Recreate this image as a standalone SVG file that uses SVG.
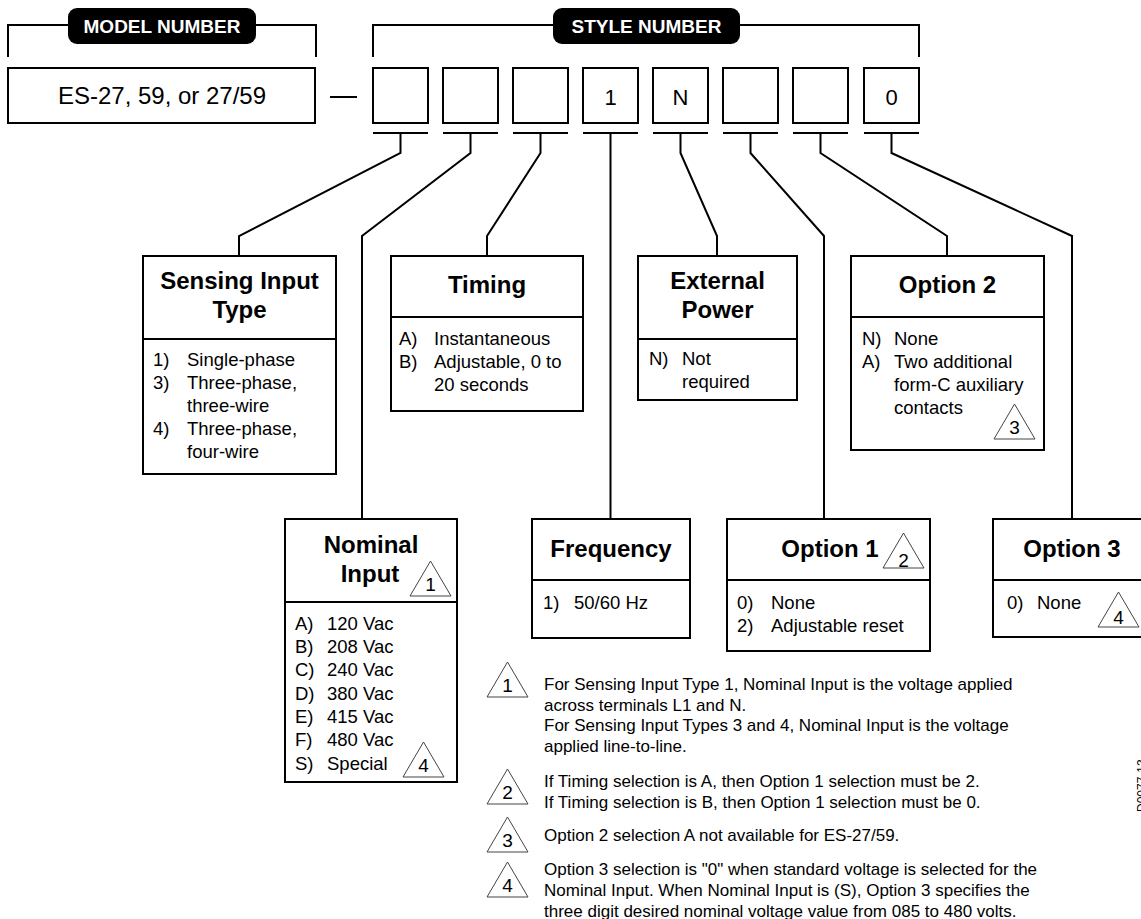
<svg xmlns="http://www.w3.org/2000/svg" width="1141" height="919" viewBox="0 0 1141 919">
<style>
.box{fill:#fff;stroke:#000;stroke-width:2}
.ln{fill:none;stroke:#000;stroke-width:2}
.tri{fill:#fff;stroke:#444;stroke-width:1}
text{font-family:"Liberation Sans",Arial,sans-serif;fill:#000}
.t{font-size:24px;font-weight:bold;text-anchor:middle}
.i{font-size:18.5px}
.n{font-size:17px}
.tn{font-size:19px;text-anchor:middle}
.lab{font-size:19px;font-weight:bold;fill:#fff;text-anchor:middle}
.big{font-size:22px;text-anchor:middle}
.mdl{font-size:24px;text-anchor:middle}
.id{font-size:12px}
</style>
<defs>
<path id="tri" class="tri" d="M0,0 L20.5,-35 L41,0 Z"/>
</defs>
<rect width="1141" height="919" fill="#fff"/>

<g id="model-number">
<path class="ln" d="M8,57 V25 H316 V57"/>
<rect x="68" y="8" width="188" height="36" rx="9" fill="#000"/>
<text class="lab" x="162" y="33">MODEL NUMBER</text>
<rect class="box" x="8" y="68" width="307" height="55"/>
<text class="mdl" x="162" y="104">ES-27, 59, or 27/59</text>
</g>

<g id="dash"><path class="ln" d="M330,97 H357"/></g>

<g id="style-number">
<path class="ln" d="M373,57 V25 H919 V57"/>
<rect x="553" y="8" width="187" height="36" rx="9" fill="#000"/>
<text class="lab" x="646.5" y="33">STYLE NUMBER</text>
<rect class="box" x="373" y="68" width="55" height="55"/>
<rect class="box" x="443" y="68" width="55" height="55"/>
<rect class="box" x="513" y="68" width="55" height="55"/>
<rect class="box" x="583" y="68" width="55" height="55"/>
<rect class="box" x="653" y="68" width="55" height="55"/>
<rect class="box" x="723" y="68" width="55" height="55"/>
<rect class="box" x="793" y="68" width="55" height="55"/>
<rect class="box" x="864" y="68" width="55" height="55"/>
<text class="big" x="610.5" y="105">1</text>
<text class="big" x="680.5" y="105">N</text>
<text class="big" x="891.5" y="105">0</text>
</g>

<g id="connectors" class="ln">
<path d="M373,133 H428 M400.5,133 V153 L239,236 V256"/>
<path d="M443,133 H498 M470.5,133 V153 L362,236 V519"/>
<path d="M513,133 H568 M540.5,133 V153 L487,236 V256"/>
<path d="M583,133 H638 M610.5,133 V519"/>
<path d="M653,133 H708 M680.5,133 V153 L717,236 V256"/>
<path d="M723,133 H778 M750.5,133 V153 L824,236 V519"/>
<path d="M793,133 H848 M820.5,133 V153 L947,236 V256"/>
<path d="M864,133 H919 M891.5,133 V153 L1072,236 V519"/>
</g>

<g id="sensing-input-type">
<rect class="box" x="143" y="256" width="193" height="218"/>
<path class="ln" d="M143,339 H336"/>
<text class="t" x="239.5" y="289">Sensing Input</text>
<text class="t" x="239.5" y="318">Type</text>
<text class="i" x="153" y="366">1)</text><text class="i" x="187" y="366">Single-phase</text>
<text class="i" x="153" y="389">3)</text><text class="i" x="187" y="389">Three-phase,</text>
<text class="i" x="187" y="412">three-wire</text>
<text class="i" x="153" y="435">4)</text><text class="i" x="187" y="435">Three-phase,</text>
<text class="i" x="187" y="458">four-wire</text>
</g>

<g id="timing">
<rect class="box" x="391" y="256" width="192" height="155"/>
<path class="ln" d="M391,317 H583"/>
<text class="t" x="487" y="293">Timing</text>
<text class="i" x="399" y="345">A)</text><text class="i" x="434" y="345">Instantaneous</text>
<text class="i" x="399" y="368">B)</text><text class="i" x="434" y="368">Adjustable, 0 to</text>
<text class="i" x="434" y="391">20 seconds</text>
</g>

<g id="external-power">
<rect class="box" x="638" y="256" width="159" height="144"/>
<path class="ln" d="M638,339 H797"/>
<text class="t" x="717.5" y="289">External</text>
<text class="t" x="717.5" y="318">Power</text>
<text class="i" x="649" y="365">N)</text><text class="i" x="682" y="365">Not</text>
<text class="i" x="682" y="388">required</text>
</g>

<g id="option-2">
<rect class="box" x="851" y="256" width="193" height="194"/>
<path class="ln" d="M851,317 H1044"/>
<text class="t" x="947.5" y="293">Option 2</text>
<text class="i" x="862" y="345">N)</text><text class="i" x="894" y="345">None</text>
<text class="i" x="862" y="368">A)</text><text class="i" x="894" y="368">Two additional</text>
<text class="i" x="894" y="391">form-C auxiliary</text>
<text class="i" x="894" y="414">contacts</text>
<use href="#tri" x="994" y="439"/>
<text class="tn" x="1014.5" y="434">3</text>
</g>

<g id="nominal-input">
<rect class="box" x="285" y="519" width="172" height="263"/>
<path class="ln" d="M285,602 H457"/>
<text class="t" x="371" y="553">Nominal</text>
<text class="t" x="370" y="582">Input</text>
<use href="#tri" x="410" y="596"/>
<text class="tn" x="430.5" y="591">1</text>
<text class="i" x="295" y="630">A)</text><text class="i" x="327" y="630">120 Vac</text>
<text class="i" x="295" y="653">B)</text><text class="i" x="327" y="653">208 Vac</text>
<text class="i" x="295" y="676">C)</text><text class="i" x="327" y="676">240 Vac</text>
<text class="i" x="295" y="700">D)</text><text class="i" x="327" y="700">380 Vac</text>
<text class="i" x="295" y="723">E)</text><text class="i" x="327" y="723">415 Vac</text>
<text class="i" x="295" y="746">F)</text><text class="i" x="327" y="746">480 Vac</text>
<text class="i" x="295" y="770">S)</text><text class="i" x="327" y="770">Special</text>
<use href="#tri" x="403" y="777"/>
<text class="tn" x="423.5" y="772">4</text>
</g>

<g id="frequency">
<rect class="box" x="532" y="519" width="158" height="119"/>
<path class="ln" d="M532,580 H690"/>
<text class="t" x="611" y="557">Frequency</text>
<text class="i" x="543" y="609">1)</text><text class="i" x="574" y="609">50/60 Hz</text>
</g>

<g id="option-1">
<rect class="box" x="727" y="519" width="203" height="132"/>
<path class="ln" d="M727,580 H930"/>
<text class="t" x="830" y="557">Option 1</text>
<use href="#tri" x="883" y="568"/>
<text class="tn" x="903.5" y="567">2</text>
<text class="i" x="737" y="609">0)</text><text class="i" x="771" y="609">None</text>
<text class="i" x="737" y="632">2)</text><text class="i" x="771" y="632">Adjustable reset</text>
</g>

<g id="option-3">
<rect class="box" x="993" y="519" width="160" height="118"/>
<path class="ln" d="M993,580 H1153"/>
<text class="t" x="1072" y="557">Option 3</text>
<text class="i" x="1007" y="609">0)</text><text class="i" x="1037" y="609">None</text>
<use href="#tri" x="1098" y="627"/>
<text class="tn" x="1118.5" y="624">4</text>
</g>

<g id="notes">
<use href="#tri" x="487" y="697"/>
<text class="tn" x="507.5" y="692">1</text>
<text class="n" x="544" y="690">For Sensing Input Type 1, Nominal Input is the voltage applied</text>
<text class="n" x="544" y="711">across terminals L1 and N.</text>
<text class="n" x="544" y="731">For Sensing Input Types 3 and 4, Nominal Input is the voltage</text>
<text class="n" x="544" y="752">applied line-to-line.</text>
<use href="#tri" x="487" y="804"/>
<text class="tn" x="507.5" y="799">2</text>
<text class="n" x="544" y="787">If Timing selection is A, then Option 1 selection must be 2.</text>
<text class="n" x="544" y="808">If Timing selection is B, then Option 1 selection must be 0.</text>
<use href="#tri" x="487" y="852"/>
<text class="tn" x="507.5" y="847">3</text>
<text class="n" x="544" y="841">Option 2 selection A not available for ES-27/59.</text>
<use href="#tri" x="487" y="897"/>
<text class="tn" x="507.5" y="892">4</text>
<text class="n" x="544" y="875">Option 3 selection is "0" when standard voltage is selected for the</text>
<text class="n" x="544" y="896">Nominal Input. When Nominal Input is (S), Option 3 specifies the</text>
<text class="n" x="544" y="917">three digit desired nominal voltage value from 085 to 480 volts.</text>
</g>

<g id="drawing-id">
<text class="id" transform="translate(1146,812) rotate(-90)">D0077-13</text>
</g>
</svg>
